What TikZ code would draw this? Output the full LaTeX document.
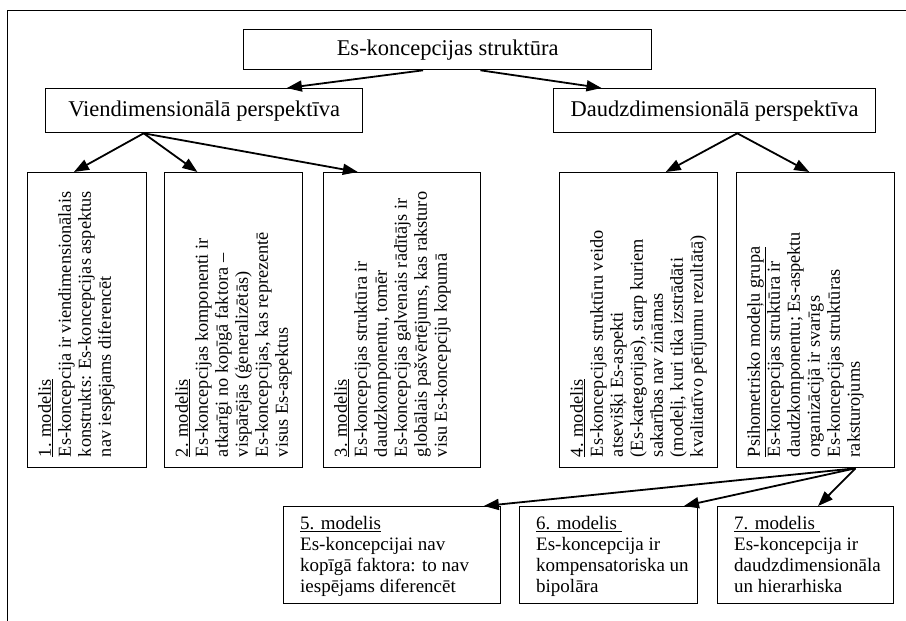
\documentclass[tikz,border=0pt]{standalone}
\usepackage{fontspec}
\setmainfont{Liberation Serif}
\usetikzlibrary{positioning,calc,arrows.meta}
\tikzset{
  box/.style={draw=black,line width=1.3pt,inner sep=0pt,anchor=north west},
  title/.style={font=\fontsize{22.5}{26}\selectfont},
  vtxt/.style={rotate=90,anchor=north west,align=left,inner sep=0pt,font=\fontsize{18.3}{20}\selectfont},
  htxt/.style={anchor=north west,align=left,inner sep=0pt,font=\fontsize{19}{21}\selectfont},
  arr/.style={draw=black,line width=1.8pt,-{Triangle[length=15pt,width=11pt]}},
}

\begin{document}
\begin{tikzpicture}[x=1pt,y=-1pt]
\useasboundingbox (0,0) rectangle (906,621);
\draw[line width=1pt] (7,621) -- (7,10) -- (906,10);
% titles
\node[box,title,minimum width=408pt,minimum height=40pt] (top) at (243,29) {Es-koncepcijas struktūra};
\node[box,title,minimum width=317pt,minimum height=44pt] (viend) at (45,88) {Viendimensionālā perspektīva};
\node[box,title,minimum width=322pt,minimum height=44pt] (daudz) at (553,88) {Daudzdimensionālā perspektīva};
% tall boxes
\node[box,minimum width=119pt,minimum height=295pt] (m1) at (27,172) {};
\node[box,minimum width=138pt,minimum height=295pt] (m2) at (164,172) {};
\node[box,minimum width=157pt,minimum height=295pt] (m3) at (323,172) {};
\node[box,minimum width=158pt,minimum height=295pt] (m4) at (559,172) {};
\node[box,minimum width=158pt,minimum height=295pt] (psy) at (736,172) {};
\node[vtxt] (t1) at ($(m1.south west)+(11,-11)$) {\underline{1. modelis}\\Es-koncepcija ir viendimensionālais\\konstrukts: Es-koncepcijas aspektus\\nav iespējams diferencēt};
\node[vtxt] (t2) at ($(m2.south west)+(11,-11)$) {\underline{2. modelis}\\Es-koncepcijas komponenti ir\\atkarīgi no kopīgā faktora –\\vispārējās (ģeneralizētās)\\Es-koncepcijas, kas reprezentē\\visus Es-aspektus};
\node[vtxt] (t3) at ($(m3.south west)+(11,-11)$) {\underline{3. modelis}\\Es-koncepcijas struktūra ir\\daudzkomponentu, tomēr\\Es-koncepcijas galvenais rādītājs ir\\globālais pašvērtējums, kas raksturo\\visu Es-koncepciju kopumā};
\node[vtxt] (t4) at ($(m4.south west)+(11,-11)$) {\underline{4. modelis}\\Es-koncepcijas struktūru veido\\atsevišķi Es-aspekti\\(Es-kategorijas), starp kuriem\\sakarības nav zināmas\\(modeļi, kuri tika izstrādāti\\kvalitatīvo pētījumu rezultātā)};
\node[vtxt] (tpsy) at ($(psy.south west)+(11,-11)$) {\underline{Psihometrisko modeļu grupa}\\Es-koncepcijas struktūra ir\\daudzkomponentu; Es-aspektu\\organizācijā ir svarīgs\\Es-koncepcijas struktūras\\raksturojums};
% bottom boxes
\node[box,minimum width=217pt,minimum height=97pt] (m5) at (283,506) {};
\node[box,minimum width=178pt,minimum height=97pt] (m6) at (519,506) {};
\node[box,minimum width=176pt,minimum height=97pt] (m7) at (717,506) {};
\node[htxt] (t5) at ($(m5.north west)+(17,10)$) {\underline{5. modelis}\\Es-koncepcijai nav\\kopīgā faktora: to nav\\iespējams diferencēt};
\node[htxt] (t6) at ($(m6.north west)+(17,10)$) {\underline{6. modelis\ }\\Es-koncepcija ir\\kompensatoriska un\\bipolāra};
\node[htxt] (t7) at ($(m7.north west)+(17,10)$) {\underline{7. modelis\ }\\Es-koncepcija ir\\daudzdimensionāla\\un hierarhiska};
% arrows
\draw[arr] ($(top.south west)!0.44!(top.south east)$) -- ($(viend.north west)!0.76!(viend.north east)$);
\draw[arr] ($(top.south west)!0.58!(top.south east)$) -- ($(daudz.north west)!0.15!(daudz.north east)$);
\draw[arr] ($(viend.south west)!0.31!(viend.south east)$) -- ($(m1.north west)!0.39!(m1.north east)$);
\draw[arr] ($(viend.south west)!0.31!(viend.south east)$) -- ($(m2.north west)!0.24!(m2.north east)$);
\draw[arr] ($(viend.south west)!0.31!(viend.south east)$) -- ($(m3.north west)!0.22!(m3.north east)$);
\draw[arr] ($(daudz.south west)!0.57!(daudz.south east)$) -- ($(m4.north west)!0.67!(m4.north east)$);
\draw[arr] ($(daudz.south west)!0.57!(daudz.south east)$) -- ($(psy.north west)!0.46!(psy.north east)$);
\draw[arr] ($(psy.south west)!0.75!(psy.south east)$) -- ($(m5.north west)!0.92!(m5.north east)$);
\draw[arr] ($(psy.south west)!0.75!(psy.south east)$) -- ($(m6.north west)!0.92!(m6.north east)$);
\draw[arr] ($(psy.south west)!0.75!(psy.south east)$) -- ($(m7.north west)!0.57!(m7.north east)$);
\end{tikzpicture}
\end{document}
